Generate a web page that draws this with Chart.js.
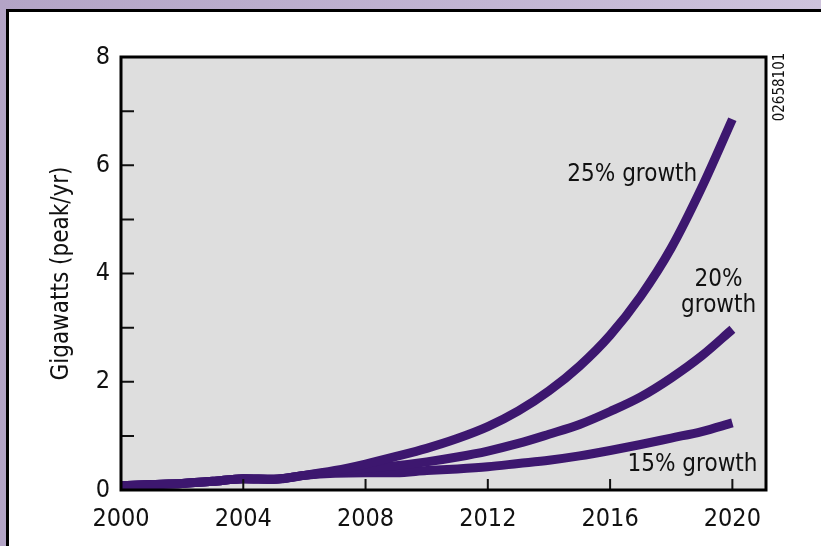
<!DOCTYPE html>
<html>
<head>
<meta charset="utf-8">
<script src="https://cdn.jsdelivr.net/npm/chart.js@4.4.1/dist/chart.umd.min.js"></script>
<style>
  html, body { margin: 0; padding: 0; }
  body {
    width: 821px; height: 546px; overflow: hidden; position: relative;
    background: linear-gradient(90deg, #b3a4c6 0%, #c2b5d3 60%, #cec3dc 100%);
  }
  #panel {
    position: absolute; left: 6px; top: 9px; width: 830px; height: 560px;
    background: #fff; border-left: 3px solid #000; border-top: 3px solid #000;
  }
  #wrap { position: absolute; left: 0; top: 0; width: 821px; height: 546px; }
</style>
</head>
<body>
<div id="panel"></div>
<div id="wrap"><canvas id="pvChart"></canvas></div>
<script>
// Data (GW peak per year)
const years    = [2000, 2001, 2002, 2003, 2004, 2005, 2006, 2007, 2008, 2009, 2010,
                  2011, 2012, 2013, 2014, 2015, 2016, 2017, 2018, 2019, 2020];
const growth25 = [0.08, 0.10, 0.12, 0.16, 0.21, 0.20, 0.27, 0.36, 0.48, 0.62, 0.77,
                  0.95, 1.17, 1.46, 1.83, 2.29, 2.86, 3.58, 4.47, 5.59, 6.85];
const growth20 = [0.08, 0.10, 0.12, 0.16, 0.21, 0.20, 0.27, 0.34, 0.40, 0.45, 0.52,
                  0.61, 0.72, 0.86, 1.03, 1.21, 1.45, 1.72, 2.07, 2.48, 2.97];
const growth15 = [0.08, 0.10, 0.12, 0.16, 0.21, 0.20, 0.27, 0.31, 0.32, 0.32, 0.36,
                  0.39, 0.43, 0.49, 0.55, 0.63, 0.73, 0.84, 0.96, 1.08, 1.24];
const seriesLabels = ['25% growth', '20% growth', '15% growth'];
const yTicks = [0, 2, 4, 6, 8];
const xTicks = [2000, 2004, 2008, 2012, 2016, 2020];

const FONT = "'Liberation Sans Narrow', 'DejaVu Sans Condensed', 'Arial Narrow', sans-serif";
const LINE = '#3d176f';

const toPoints = arr => arr.map((v, i) => ({ x: years[i], y: v }));

// gray plot area, inner tick marks, frame and annotations
const decor = {
  id: 'decor',
  beforeDatasetsDraw(chart) {
    const { ctx, chartArea: a } = chart;
    ctx.save();
    ctx.fillStyle = '#dedede';
    ctx.fillRect(a.left, a.top, a.right - a.left, a.bottom - a.top);
    ctx.restore();
  },
  afterDatasetsDraw(chart) {
    const { ctx, chartArea: a, scales } = chart;
    ctx.save();
    ctx.strokeStyle = '#111';
    ctx.lineWidth = 2;
    ctx.beginPath();
    for (let v = 1; v < 8; v++) {
      const y = scales.y.getPixelForValue(v);
      ctx.moveTo(a.left, y); ctx.lineTo(a.left + 13, y);
    }
    xTicks.slice(1).forEach(yr => {
      const x = scales.x.getPixelForValue(yr);
      ctx.moveTo(x, a.bottom); ctx.lineTo(x, a.bottom - 11);
    });
    ctx.stroke();
    ctx.lineWidth = 3;
    ctx.strokeStyle = '#000';
    ctx.strokeRect(a.left, a.top, a.right - a.left, a.bottom - a.top);

    ctx.fillStyle = '#111';
    ctx.font = '24px ' + FONT;
    ctx.textBaseline = 'middle';
    const px = (x, y) => [scales.x.getPixelForValue(x), scales.y.getPixelForValue(y)];
    let p = px(2018.85, 5.82);
    ctx.textAlign = 'right';
    ctx.fillText(seriesLabels[0], p[0], p[1]);
    ctx.textAlign = 'center';
    p = px(2019.55, 3.88);
    ctx.fillText('20%', p[0], p[1]);
    p = px(2019.55, 3.41);
    ctx.fillText('growth', p[0], p[1]);
    ctx.textAlign = 'right';
    p = px(2020.82, 0.46);
    ctx.fillText(seriesLabels[2], p[0], p[1]);

    // figure id, rotated
    ctx.translate(a.right + 14, a.top + 30);
    ctx.rotate(-Math.PI / 2);
    ctx.textAlign = 'center';
    ctx.font = '15px ' + FONT;
    ctx.fillText('02658101', 0, 0);
    ctx.restore();
  }
};

const mkSet = (label, arr) => ({
  label,
  data: toPoints(arr),
  borderColor: LINE,
  borderWidth: 9,
  pointRadius: 0,
  tension: 0.4,
  cubicInterpolationMode: 'monotone',
  borderCapStyle: 'butt',
  fill: false
});

new Chart(document.getElementById('pvChart').getContext('2d'), {
  type: 'line',
  data: {
    datasets: [
      mkSet(seriesLabels[0], growth25),
      mkSet(seriesLabels[1], growth20),
      mkSet(seriesLabels[2], growth15)
    ]
  },
  options: {
    responsive: true,
    maintainAspectRatio: false,
    animation: false,
    layout: { padding: { top: 57, right: 55, left: 0, bottom: 0 } },
    plugins: { legend: { display: false }, tooltip: { enabled: false } },
    scales: {
      x: {
        type: 'linear',
        min: 2000,
        max: 2021.1,
        afterFit: s => { s.height = 56; },
        afterBuildTicks: s => { s.ticks = xTicks.map(v => ({ value: v })); },
        grid: { display: false, drawTicks: false },
        border: { display: false },
        ticks: { color: '#111', padding: 14, font: { family: FONT, size: 25 },
                 callback: v => String(v) }
      },
      y: {
        min: 0,
        max: 8,
        afterFit: s => { s.width = 121; },
        afterBuildTicks: s => { s.ticks = yTicks.map(v => ({ value: v })); },
        grid: { display: false, drawTicks: false },
        border: { display: false },
        ticks: { color: '#111', padding: 11, font: { family: FONT, size: 25 } },
        title: {
          display: true,
          text: 'Gigawatts (peak/yr)',
          color: '#111',
          padding: { top: 47, bottom: 0 },
          font: { family: FONT, size: 24 }
        }
      }
    }
  },
  plugins: [decor]
});
</script>
</body>
</html>
